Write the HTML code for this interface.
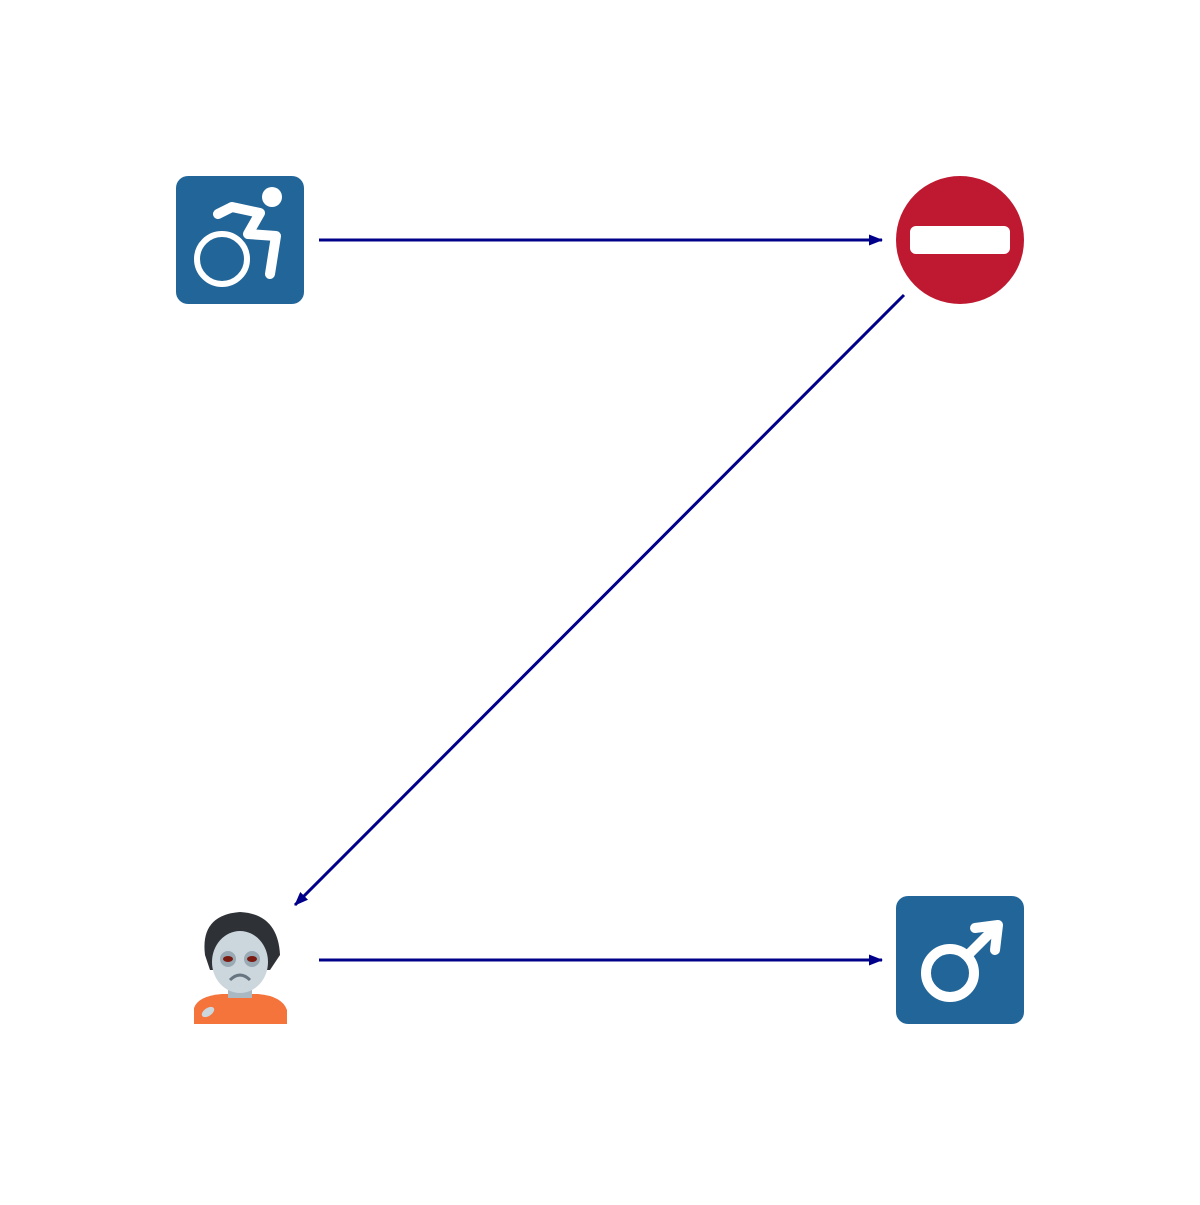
<!DOCTYPE html>
<html><head><meta charset="utf-8"><style>html,body{margin:0;padding:0;background:#fff}</style></head>
<body>
<svg width="1200" height="1200" viewBox="0 0 1200 1200" xmlns="http://www.w3.org/2000/svg">
<defs><marker id="a" markerWidth="14" markerHeight="12" refX="13" refY="6" orient="auto" markerUnits="userSpaceOnUse"><path d="M0,0.5 L14,6 L0,11.5 Z" fill="#00008b"/></marker></defs>
<!-- wheelchair -->
<rect x="176" y="176" width="128" height="128" rx="12" fill="#226699"/>
<circle cx="272" cy="197" r="10" fill="#fff"/>
<circle cx="222" cy="259" r="25" fill="none" stroke="#fff" stroke-width="6"/>
<path d="M218,214 L232,207 L260,213 L248,234 L276,236 L270,274" fill="none" stroke="#fff" stroke-width="10" stroke-linecap="round" stroke-linejoin="round"/>
<!-- no entry -->
<circle cx="960" cy="240" r="64" fill="#be1931"/>
<rect x="910" y="226" width="100" height="28" rx="6" fill="#fff"/>
<!-- male -->
<rect x="896" y="896" width="128" height="128" rx="12" fill="#226699"/>
<circle cx="950" cy="973" r="24" fill="none" stroke="#fff" stroke-width="10"/>
<path d="M967,956 L997,926 M975,928 L998,925 L995,950" fill="none" stroke="#fff" stroke-width="10" stroke-linecap="round" stroke-linejoin="round"/>
<!-- zombie -->
<path d="M194,1024 L194,1008 Q198,996 222,994 L258,994 Q282,996 287,1010 L287,1024 Z" fill="#f4743b"/>
<rect x="228" y="982" width="24" height="16" fill="#aab8c2"/>
<path d="M205,955 Q200,915 240,912 Q278,914 280,955 L270,970 L210,970 Z" fill="#2e3236"/>
<ellipse cx="240" cy="962" rx="28" ry="31" fill="#ccd6dd"/>
<path d="M211,955 Q214,930 236,928 Q262,928 270,955 L274,940 Q262,914 238,916 Q212,920 208,946 Z" fill="#2e3236"/>
<circle cx="228" cy="959" r="8" fill="#99aab5"/><circle cx="252" cy="959" r="8" fill="#99aab5"/>
<ellipse cx="228" cy="959" rx="5" ry="3" fill="#7a1a10"/><ellipse cx="252" cy="959" rx="5" ry="3" fill="#7a1a10"/>
<path d="M230,980 Q240,970 250,980" fill="none" stroke="#66757f" stroke-width="3"/>
<ellipse cx="208" cy="1012" rx="7" ry="4" fill="#ccd6dd" transform="rotate(-35 208 1012)"/>
<!-- arrows -->
<line x1="319" y1="240" x2="882" y2="240" stroke="#00008b" stroke-width="3" marker-end="url(#a)"/>
<line x1="904" y1="295" x2="295" y2="905" stroke="#00008b" stroke-width="3" marker-end="url(#a)"/>
<line x1="319" y1="960" x2="882" y2="960" stroke="#00008b" stroke-width="3" marker-end="url(#a)"/>
</svg>
</body></html>
